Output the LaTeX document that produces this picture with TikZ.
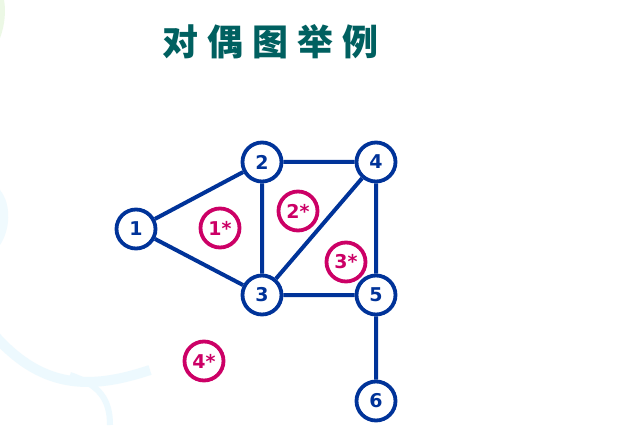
\documentclass[tikz,border=0pt]{standalone}
\usepackage{fontspec}
\setsansfont{DejaVu Sans}
\newfontfamily\cjkfont{Noto Sans CJK SC}
\usepackage{tikz}
\definecolor{edgeblue}{HTML}{003399}
\definecolor{dualpink}{HTML}{CC0066}
\definecolor{titleteal}{HTML}{006060}
\colorlet{vertex}{edgeblue}
\colorlet{dual}{dualpink}
\tikzset{
  vertexnode/.style={circle,draw=vertex,fill=white,line width=3.8pt,minimum size=39pt,inner sep=0pt,
    text=vertex,font=\sffamily\bfseries\fontsize{19}{19}\selectfont},
  dualnode/.style={vertexnode,draw=dual,text=dual},
  graphedge/.style={draw=vertex,line width=4pt},
}

\begin{document}
\begin{tikzpicture}[x=1pt,y=-1pt]
\useasboundingbox[fill=white] (0,0) rectangle (618,430);
% faint background
\draw[line width=10pt,color=cyan!7] (-10,330) .. controls (40,390) and (90,390) .. (150,370);
\draw[line width=6pt,color=cyan!7] (70,375) .. controls (100,385) and (110,400) .. (110,425);
\fill[cyan!6] (0,190) .. controls (12,205) and (10,230) .. (0,245) -- cycle;
\fill[yellow!25!green!10] (0,0) -- (4,0) .. controls (6,10) and (5,25) .. (0,38) -- cycle;
% title
\node (title) [text=titleteal,font=\cjkfont\bfseries\fontsize{36}{36}\selectfont] at (270,42)
  {对\hspace{9pt}偶\hspace{9pt}图\hspace{9pt}举\hspace{9pt}例};
% vertices
\node[vertexnode] (v1) at (136,229) {1};
\node[vertexnode] (v2) at (262,162) {2};
\node[vertexnode] (v3) at (262,295) {3};
\node[vertexnode] (v4) at (376,162) {4};
\node[vertexnode] (v5) at (376,295) {5};
\node[vertexnode] (v6) at (376,401) {6};
% faces
\node[dualnode] (f1) at (220,228) {1*};
\node[dualnode] (f2) at (298,211) {2*};
\node[dualnode] (f3) at (346,262) {3*};
\node[dualnode] (f4) at (204,361) {4*};
% edges
\path[graphedge] (v1) -- (v2) (v1) -- (v3) (v2) -- (v3) (v2) -- (v4)
  (v3) -- (v4) (v3) -- (v5) (v4) -- (v5) (v5) -- (v6);
\end{tikzpicture}
\end{document}
